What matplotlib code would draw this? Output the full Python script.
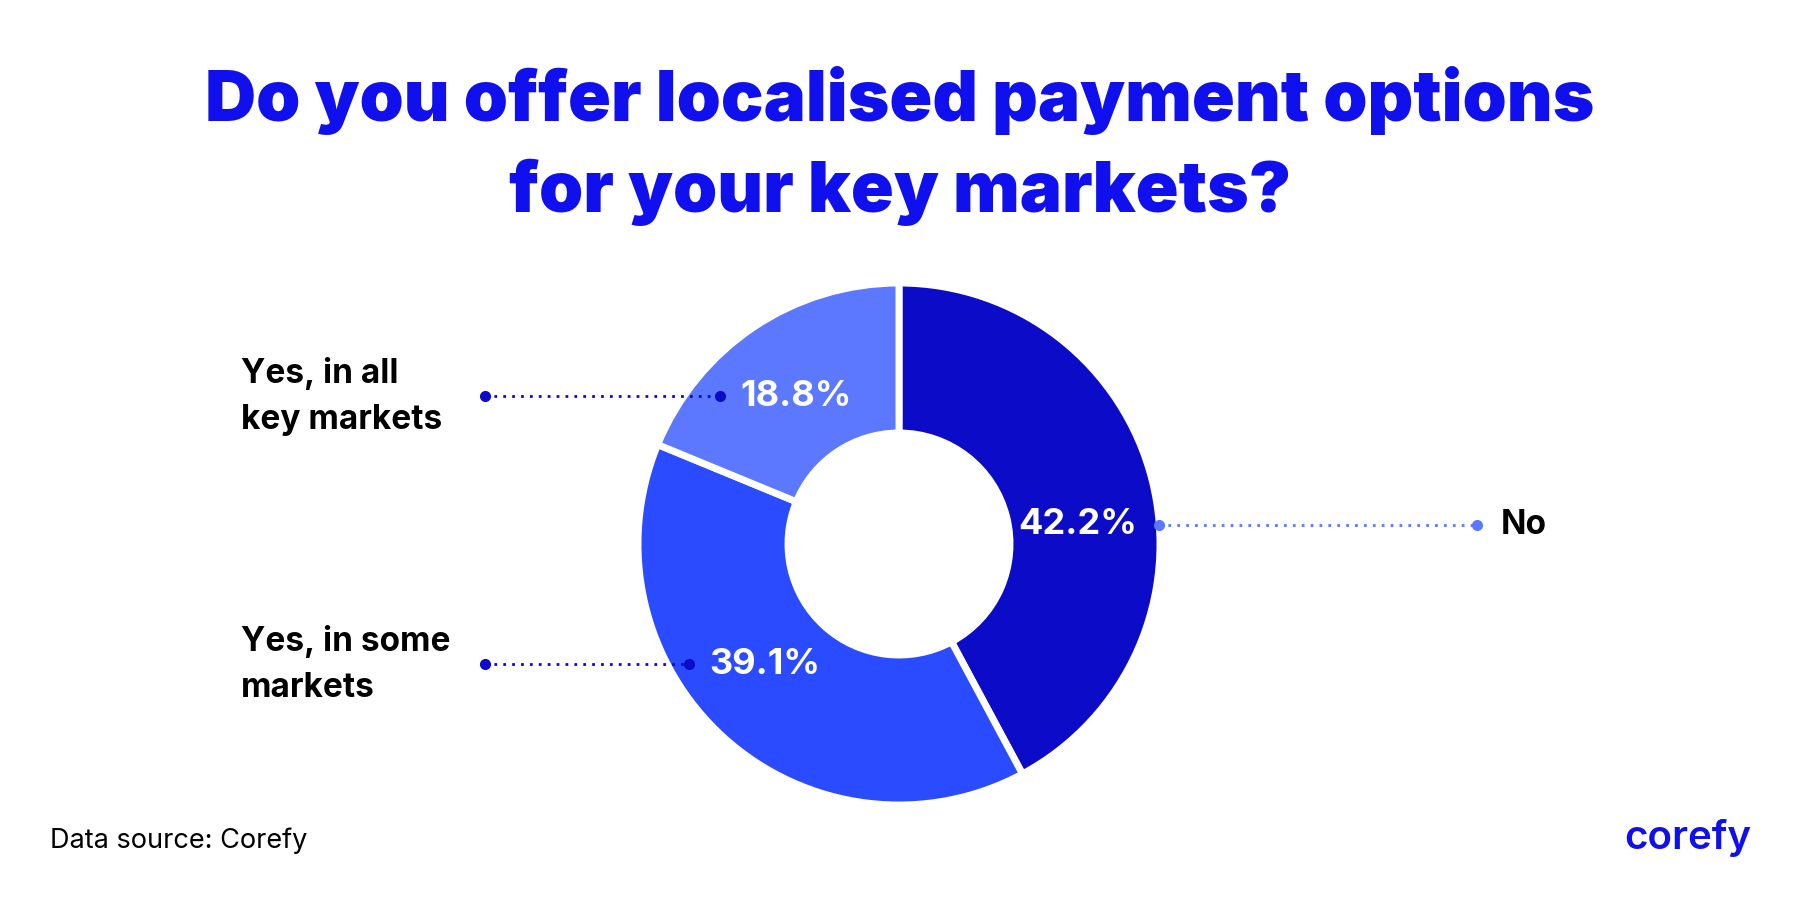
import numpy as np
import matplotlib
matplotlib.use("Agg")
import matplotlib.pyplot as plt

# data
categories = ["No", "Yes, in some\nmarkets", "Yes, in all\nkey markets"]
shares = [42.2, 39.1, 18.8]
pct_labels = ["42.2%", "39.1%", "18.8%"]
colors = ["#0B0BC8", "#2A4BFF", "#5C78FF"]

title = "Do you offer localised payment options\nfor your key markets?"
source = "Data source: Corefy"

W, H = 1800, 900
cx, cy = 899, H - 544
R_out, ring = 261, 150

plt.rcParams['font.family'] = ['Inter', 'DejaVu Sans']

fig = plt.figure(figsize=(18, 9), dpi=100)
ax = fig.add_axes([0, 0, 1, 1])

wedges, _ = ax.pie(shares, startangle=90, counterclock=False, radius=R_out,
                   center=(cx, cy), frame=True,
                   colors=colors,
                   wedgeprops=dict(width=ring, edgecolor='white', linewidth=5,
                                   joinstyle='round'))
ax.set_xlim(0, W)
ax.set_ylim(0, H)
ax.set_aspect('equal')
ax.axis('off')

# label placement tweaks (degrees) so leader lines stay level
angle_nudge = [-8, -6, 1]
line_color = "#0B0BC8"
r_lab = 0.69 * R_out
for i, w in enumerate(wedges):
    mid = np.deg2rad((w.theta1 + w.theta2) / 2 + angle_nudge[i])
    lx = cx + r_lab * np.cos(mid)
    ly = cy + r_lab * np.sin(mid)
    ax.text(lx, ly, pct_labels[i], color='white', fontsize=26,
            fontweight='bold', ha='center', va='center')
    if np.cos(mid) > 0:
        x0 = cx + np.sqrt(R_out**2 - (ly - cy)**2)
        x1 = 1477
        ax.plot([x0, x1], [ly, ly], color="#5C78FF", lw=2, ls=(0, (1, 2.2)))
        ax.plot([x0, x1], [ly, ly], 'o', color="#5C78FF", ms=7)
        ax.text(x1 + 24, ly, categories[i], fontsize=24, fontweight='bold',
                ha='left', va='center', color='black')
    else:
        x0 = lx - 76
        x1 = 485
        ax.plot([x1, x0], [ly, ly], color=line_color, lw=2, ls=(0, (1, 2.2)))
        ax.plot([x1, x0], [ly, ly], 'o', color=line_color, ms=7)
        ax.text(241, ly, categories[i], fontsize=24, fontweight='bold',
                ha='left', va='center', color='black', linespacing=1.55)

fig.text(0.5, 1 - 146 / H, title, ha='center', va='center', fontsize=51,
         fontweight='black', color='#1010EE', linespacing=1.45)
fig.text(50 / W, 1 - 841 / H, source, ha='left', va='center', fontsize=19.5,
         color='black')
fig.text(1751 / W, 1 - 838 / H, "corefy", ha='right', va='center', fontsize=29,
         fontweight='semibold', color='#1010EE')

fig.savefig("out.png", dpi=100, facecolor='white')
